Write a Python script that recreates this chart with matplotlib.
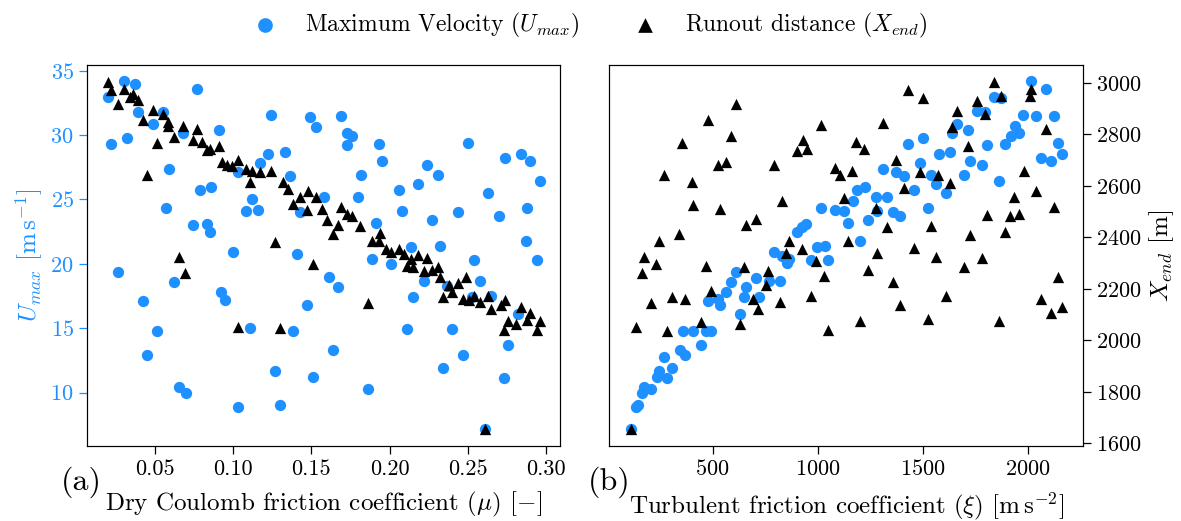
import numpy as np
import matplotlib
matplotlib.use("Agg")
import matplotlib.pyplot as plt

plt.rcParams["font.family"] = ["cmr10", "DejaVu Serif"]
plt.rcParams["mathtext.fontset"] = "cm"
plt.rcParams["axes.unicode_minus"] = False
plt.rcParams["axes.formatter.use_mathtext"] = True

BLUE = "#1E90FF"

# (a) dry Coulomb friction runs: max velocity
mu_vel = [0.030, 0.037, 0.020, 0.077, 0.039, 0.055, 0.049, 0.124, 0.149, 0.153,
          0.091, 0.068, 0.022, 0.032, 0.122, 0.133, 0.117, 0.103, 0.136, 0.059,
          0.079, 0.086, 0.112, 0.108, 0.116, 0.158, 0.143, 0.057, 0.074, 0.083,
          0.085, 0.100, 0.141,
          0.169, 0.173, 0.176, 0.173, 0.193, 0.195, 0.182, 0.180, 0.206, 0.218,
          0.224, 0.231, 0.250, 0.274, 0.284, 0.290, 0.296, 0.263, 0.208, 0.244,
          0.270, 0.288, 0.227, 0.191, 0.214, 0.232, 0.287,
          0.189, 0.201, 0.254, 0.294, 0.161, 0.167, 0.222, 0.258, 0.215, 0.237,
          0.253, 0.265, 0.282, 0.211, 0.240, 0.276, 0.164, 0.247, 0.234, 0.273,
          0.186, 0.261,
          0.026, 0.062, 0.092, 0.095, 0.042, 0.147, 0.051, 0.111, 0.138, 0.045,
          0.127, 0.151, 0.065, 0.070, 0.103, 0.130]
vel_mu = [34.2, 34.0, 33.0, 33.6, 31.8, 31.8, 30.9, 31.6, 31.4, 30.6,
          30.4, 30.2, 29.3, 29.8, 28.5, 28.7, 27.8, 27.1, 26.8, 27.4,
          25.7, 26.0, 25.0, 24.1, 24.2, 25.2, 24.0, 24.3, 23.0, 23.1,
          22.5, 20.9, 20.8,
          31.5, 30.2, 29.9, 29.2, 29.3, 28.0, 26.9, 25.2, 25.7, 26.2,
          27.7, 26.9, 29.4, 28.2, 28.5, 28.0, 26.4, 25.5, 24.1, 24.0,
          23.7, 24.3, 23.4, 23.2, 21.3, 21.4, 21.8,
          20.4, 20.0, 20.3, 20.3, 19.0, 18.2, 18.7, 18.7, 17.4, 18.3,
          17.4, 17.5, 16.1, 14.9, 14.9, 13.7, 13.3, 12.9, 11.9, 11.1,
          10.3, 7.2,
          19.4, 18.6, 17.8, 17.2, 17.1, 16.8, 14.8, 15.0, 14.8, 12.9,
          11.7, 11.2, 10.4, 10.0, 8.9, 9.0]

# (a) dry Coulomb friction runs: runout distance
mu_run = [0.020, 0.022, 0.030, 0.036, 0.034, 0.039, 0.026, 0.049, 0.055, 0.042,
          0.058, 0.058, 0.068, 0.077, 0.062, 0.074, 0.080, 0.085, 0.083, 0.091,
          0.051, 0.093, 0.096, 0.103, 0.099, 0.108, 0.112, 0.117, 0.124, 0.111,
          0.132, 0.135, 0.148, 0.153, 0.143, 0.138, 0.147, 0.157, 0.160, 0.045,
          0.127, 0.065,
          0.069, 0.151, 0.103, 0.130,
          0.169, 0.173, 0.176, 0.167, 0.164, 0.181, 0.194, 0.189, 0.193, 0.198,
          0.201, 0.206, 0.209, 0.218, 0.224, 0.214,
          0.211, 0.215, 0.231, 0.222, 0.227, 0.232, 0.249, 0.238, 0.244, 0.240,
          0.234, 0.247, 0.254, 0.251, 0.258, 0.263, 0.274, 0.265, 0.271, 0.284,
          0.290, 0.276, 0.281, 0.288, 0.296, 0.273, 0.294, 0.186, 0.261]
run_mu = [3003, 2971, 2977, 2958, 2945, 2932, 2919, 2896, 2880, 2857,
          2848, 2832, 2832, 2822, 2792, 2777, 2770, 2744, 2738, 2757,
          2766, 2692, 2680, 2699, 2676, 2667, 2660, 2654, 2660, 2615,
          2615, 2589, 2579, 2557, 2557, 2528, 2505, 2511, 2469, 2641,
          2384, 2326,
          2261, 2295, 2054, 2048,
          2518, 2492, 2482, 2450, 2412, 2443, 2417, 2388, 2388, 2356,
          2343, 2356, 2337, 2330, 2321, 2317,
          2291, 2285, 2285, 2269, 2275, 2246, 2246, 2216, 2224, 2188,
          2168, 2162, 2171, 2158, 2149, 2171, 2158, 2123, 2136, 2129,
          2106, 2074, 2062, 2078, 2075, 2039, 2042, 2146, 1656]

# (b) turbulent friction runs: max velocity
xi_vel = [1014, 1082, 943, 927, 903, 792, 832, 999, 1035,
          2014, 2086, 1840, 1871, 1757, 1795, 1978, 2038, 2125, 1665,
          1713, 1641, 1938, 1959, 1919, 1892, 1808, 2144, 2161, 2062,
          2110, 1432, 1503, 1630, 1575, 1486, 1725, 1781, 1310, 1371,
          1411, 1541, 1562, 1694, 1863, 1610, 1459, 1186, 1224, 1170,
          1276, 1332, 1284, 1125, 1144, 1360, 1392, 1527, 1241, 1201,
          852, 863, 967, 1051, 610, 708, 586, 657, 768, 821,
          562, 527, 535, 480, 649, 721, 630, 359, 406, 467,
          491, 443, 343, 368, 268, 308, 244, 233, 284, 173,
          208, 162, 133, 144, 110]
vel_xi = [24.3, 24.2, 23.1, 22.9, 22.5, 20.9, 20.6, 21.3, 21.4,
          34.2, 33.6, 33.0, 32.9, 31.9, 31.8, 31.6, 31.5, 31.5, 30.9,
          30.4, 30.2, 30.7, 30.2, 29.9, 29.3, 29.2, 29.4, 28.5, 28.2,
          28.0, 29.3, 29.8, 28.7, 28.5, 27.8, 28.0, 27.7, 27.4, 27.1,
          26.8, 26.9, 26.2, 26.9, 26.4, 25.5, 25.7, 25.7, 26.0, 24.9,
          25.2, 25.2, 24.1, 24.1, 23.2, 24.0, 23.7, 24.3, 23.4, 21.8,
          20.1, 20.4, 20.3, 20.3, 19.4, 18.9, 18.6, 18.2, 18.7, 18.7,
          17.8, 17.3, 16.8, 17.1, 17.4, 17.4, 16.1, 14.8, 14.8, 14.8,
          14.8, 13.7, 13.3, 12.9, 12.8, 11.9, 11.7, 11.2, 11.1, 10.4,
          10.3, 10.0, 8.9, 9.0, 7.2]

# (b) turbulent friction runs: runout distance
xi_run = [610, 478, 356, 586, 1016, 932, 903, 951, 527, 562,
          268, 403, 794, 1080, 1106, 406, 535, 832, 1125, 705,
          657, 340, 244, 863, 924, 851, 173,
          1432, 1503, 1840, 1871, 2014, 2010, 1757, 1795, 1665, 1310,
          1638, 2086, 1181, 1221, 1713, 1371, 1486, 1573, 1165, 1980,
          1630, 1411, 2038, 1935, 1276, 2125, 1808, 1916, 1956, 1332,
          1541, 1892, 1725, 1144, 1284, 1459, 1562, 1781,
          1694, 1240, 1360, 2144, 1610, 1392, 2062, 2161, 2110, 1200,
          1527, 1863,
          232, 162, 467, 649, 763, 990, 1032, 752, 491, 305,
          367, 205, 694, 718, 821, 968, 443, 629, 133, 284,
          1051, 110]
run_xi = [2919, 2857, 2766, 2793, 2835, 2777, 2735, 2742, 2682, 2692,
          2643, 2615, 2680, 2669, 2641, 2527, 2509, 2541, 2554, 2473,
          2449, 2414, 2386, 2388, 2356, 2341, 2326,
          2974, 2942, 3003, 2951, 2977, 2951, 2929, 2880, 2893, 2845,
          2828, 2822, 2770, 2744, 2757, 2699, 2656, 2643, 2660, 2660,
          2611, 2593, 2580, 2559, 2515, 2518, 2488, 2482, 2492, 2440,
          2444, 2423, 2408, 2388, 2339, 2358, 2326, 2320,
          2285, 2275, 2226, 2246, 2172, 2139, 2159, 2129, 2108, 2074,
          2084, 2075,
          2295, 2261, 2291, 2287, 2269, 2308, 2249, 2216, 2191, 2168,
          2162, 2145, 2162, 2123, 2149, 2171, 2071, 2062, 2052, 2036,
          2042, 1656]

u_lim = (5.85, 35.45)
x_lim = (1590, 3070)

fig = plt.figure(figsize=(11.81, 5.21), dpi=100)
ax_a = fig.add_axes([0.0737, 0.144, 0.4005, 0.7313])
ax_b = fig.add_axes([0.5157, 0.144, 0.4014, 0.7313])

ms = 66
h_u = ax_a.scatter(mu_vel, vel_mu, s=ms, color=BLUE, marker="o", linewidths=0)
ax_a2 = ax_a.twinx()
h_x = ax_a2.scatter(mu_run, run_mu, s=ms, color="black", marker="^", linewidths=0)

ax_b.scatter(xi_vel, vel_xi, s=ms, color=BLUE, marker="o", linewidths=0)
ax_b2 = ax_b.twinx()
ax_b2.scatter(xi_run, run_xi, s=ms, color="black", marker="^", linewidths=0)

for ax in (ax_a, ax_b):
    ax.set_ylim(*u_lim)
for ax in (ax_a2, ax_b2):
    ax.set_ylim(*x_lim)

ax_a.set_xlim(0.0065, 0.309)
ax_b.set_xlim(7, 2263)
ax_a.set_xticks([0.05, 0.10, 0.15, 0.20, 0.25, 0.30])
ax_a.set_xticklabels(["0.05", "0.10", "0.15", "0.20", "0.25", "0.30"])
ax_b.set_xticks([500, 1000, 1500, 2000])
ax_a.set_yticks([10, 15, 20, 25, 30, 35])
ax_b2.set_yticks([1600, 1800, 2000, 2200, 2400, 2600, 2800, 3000])

fs_tick = 16
for ax in (ax_a, ax_b, ax_a2, ax_b2):
    ax.tick_params(labelsize=fs_tick, length=6, width=0.9)
ax_a.tick_params(axis="y", colors=BLUE)
ax_a2.tick_params(right=False, labelright=False)
ax_b.tick_params(left=False, labelleft=False)

fs_lab = 18
ax_a.set_xlabel(r"Dry Coulomb friction coefficient ($\mu$) [$-$]", fontsize=fs_lab, labelpad=8)
ax_b.set_xlabel(r"Turbulent friction coefficient ($\xi$) [$\mathrm{m\,s^{-2}}$]", fontsize=fs_lab, labelpad=8)
ax_a.set_ylabel(r"$U_{max}$ [$\mathrm{m\,s^{-1}}$]", fontsize=fs_lab, color=BLUE, labelpad=4)
ax_b2.set_ylabel(r"$X_{end}$ [m]", fontsize=fs_lab, labelpad=4)

fig.text(0.069, 0.075, "(a)", fontsize=23, ha="center", va="center")
fig.text(0.5155, 0.075, "(b)", fontsize=23, ha="center", va="center")

fig.legend([h_u, h_x],
           [r"Maximum Velocity ($U_{max}$)", r"Runout distance ($X_{end}$)"],
           loc="upper center", bbox_to_anchor=(0.495, 1.02), ncol=2, frameon=False,
           fontsize=17, columnspacing=1.8, handletextpad=0.7, scatterpoints=1,
           markerscale=1.3)

fig.savefig("out.png", dpi=100)
